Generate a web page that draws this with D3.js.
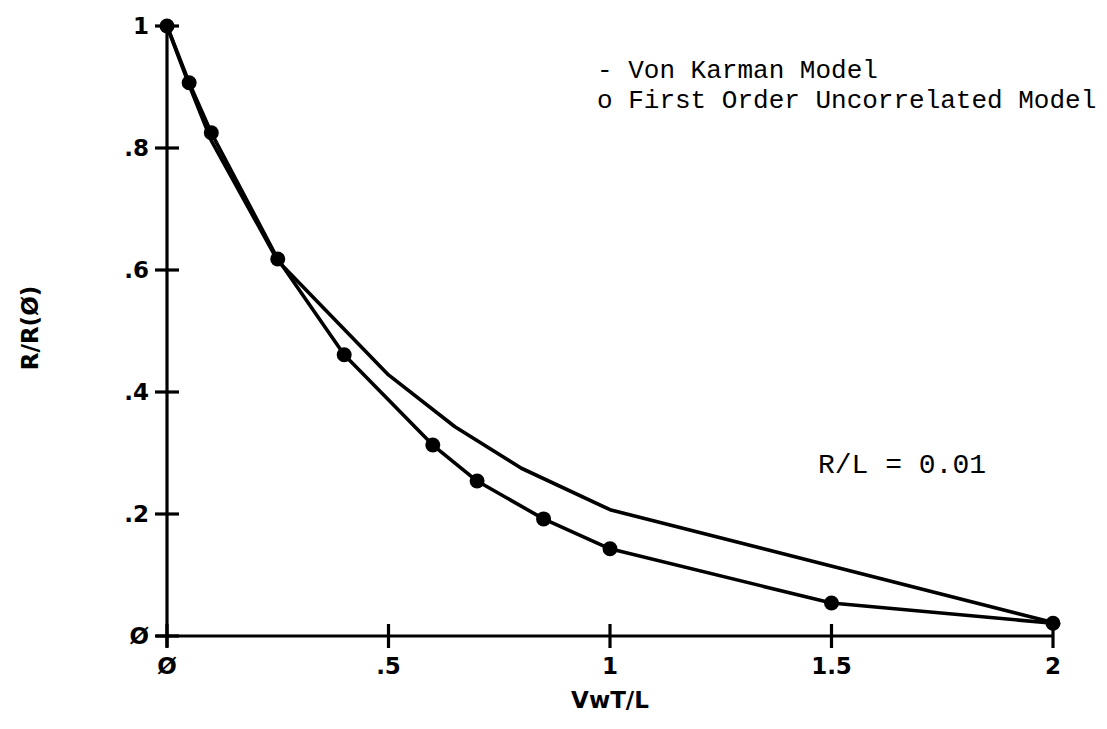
<!DOCTYPE html>
<html>
<head>
<meta charset="utf-8">
<script src="https://cdn.jsdelivr.net/npm/d3@7"></script>
<style>
  html, body { margin: 0; padding: 0; background: #fff; }
  svg { display: block; }
  .tick-label { font-family: "DejaVu Sans", sans-serif; font-weight: bold; font-size: 23px; fill: #000; }
  .mono { font-family: "Liberation Mono", "DejaVu Sans Mono", monospace; fill: #000; }
</style>
</head>
<body>
<svg id="chart" width="1107" height="729"></svg>
<script>
// Normalized response R/R(0) versus VwT/L, R/L = 0.01
const xTicks = [0, 0.5, 1, 1.5, 2];
const xTickLabels = ["Ø", ".5", "1", "1.5", "2"];
const yTicks = [0, 0.2, 0.4, 0.6, 0.8, 1];
const yTickLabels = ["Ø", ".2", ".4", ".6", ".8", "1"];

// First order uncorrelated model (points)
const uncorrX = [0, 0.05, 0.1, 0.25, 0.4, 0.6, 0.7, 0.85, 1.0, 1.5, 2.0];
const uncorrY = [1.0, 0.907, 0.825, 0.618, 0.461, 0.313, 0.254, 0.192, 0.143, 0.054, 0.021];

// Von Karman model (line)
const karmanX = [0, 0.05, 0.1, 0.25, 0.5, 0.65, 0.8, 1.0, 2.0];
const karmanY = [1.0, 0.903, 0.812, 0.615, 0.428, 0.343, 0.275, 0.207, 0.022];

const svg = d3.select("#chart");
const x = d3.scaleLinear().domain([0, 2]).range([167, 1053]);
const y = d3.scaleLinear().domain([0, 1]).range([636, 26]);

const axisColor = "#000";
const sw = 3.2;

// Axes lines
svg.append("line")
  .attr("x1", x(0)).attr("x2", x(0))
  .attr("y1", y(1)).attr("y2", y(0) + 11)
  .attr("stroke", axisColor).attr("stroke-width", sw);
svg.append("line")
  .attr("x1", x(0) - 11).attr("x2", x(2))
  .attr("y1", y(0)).attr("y2", y(0))
  .attr("stroke", axisColor).attr("stroke-width", sw);

// Y ticks (crossing marks)
svg.selectAll(".ytick").data(yTicks).enter().append("line")
  .attr("x1", x(0) - 12).attr("x2", x(0) + 12)
  .attr("y1", d => y(d)).attr("y2", d => y(d))
  .attr("stroke", axisColor).attr("stroke-width", sw);
svg.selectAll(".ylab").data(yTicks).enter().append("text")
  .attr("class", "tick-label")
  .attr("x", x(0) - 18)
  .attr("y", d => y(d))
  .attr("dy", "0.36em")
  .attr("text-anchor", "end")
  .text((d, i) => yTickLabels[i]);

// X ticks
svg.selectAll(".xtick").data(xTicks).enter().append("line")
  .attr("x1", d => x(d)).attr("x2", d => x(d))
  .attr("y1", y(0) - 12).attr("y2", y(0) + 12)
  .attr("stroke", axisColor).attr("stroke-width", sw);
svg.selectAll(".xlab").data(xTicks).enter().append("text")
  .attr("class", "tick-label")
  .attr("x", d => x(d))
  .attr("y", y(0) + 38)
  .attr("text-anchor", "middle")
  .text((d, i) => xTickLabels[i]);

// Axis titles
svg.append("text")
  .attr("class", "tick-label")
  .attr("x", 610).attr("y", 708)
  .attr("text-anchor", "middle")
  .text("VwT/L");
svg.append("text")
  .attr("class", "tick-label")
  .attr("transform", "translate(38,328) rotate(-90)")
  .attr("text-anchor", "middle")
  .text("R/R(Ø)");

const line = d3.line().x(d => x(d[0])).y(d => y(d[1]));

// Von Karman curve
svg.append("path")
  .datum(d3.zip(karmanX, karmanY))
  .attr("d", line)
  .attr("fill", "none")
  .attr("stroke", "#000")
  .attr("stroke-width", 3.6)
  .attr("stroke-linejoin", "round");

// First order uncorrelated curve + markers
svg.append("path")
  .datum(d3.zip(uncorrX, uncorrY))
  .attr("d", line)
  .attr("fill", "none")
  .attr("stroke", "#000")
  .attr("stroke-width", 3.6)
  .attr("stroke-linejoin", "round");
svg.selectAll(".pt").data(d3.zip(uncorrX, uncorrY)).enter().append("circle")
  .attr("cx", d => x(d[0]))
  .attr("cy", d => y(d[1]))
  .attr("r", 7.5)
  .attr("fill", "#000");

// Legend
svg.append("text").attr("class", "mono")
  .attr("x", 597).attr("y", 78)
  .attr("font-size", 26)
  .text("- Von Karman Model");
svg.append("text").attr("class", "mono")
  .attr("x", 597).attr("y", 108)
  .attr("font-size", 26)
  .text("o First Order Uncorrelated Model");

// Parameter note
svg.append("text").attr("class", "mono")
  .attr("x", 818).attr("y", 473)
  .attr("font-size", 28)
  .text("R/L = 0.01");
</script>
</body>
</html>
